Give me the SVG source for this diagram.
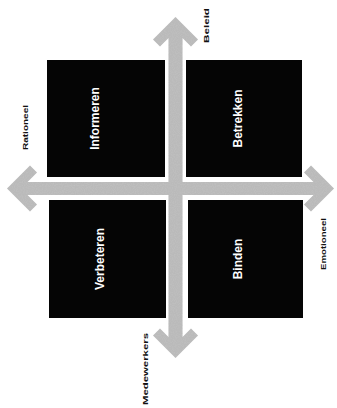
<svg xmlns="http://www.w3.org/2000/svg" width="337" height="408" viewBox="0 0 337 408">
<defs>
<style>
.box{fill:#050505}
.lbl{fill:#ffffff;font-family:"Liberation Sans",Arial,sans-serif;font-weight:bold;font-size:12px;text-anchor:middle;dominant-baseline:central}
.ax{fill:#111111;font-family:"Liberation Sans",Arial,sans-serif;font-weight:bold;font-size:8px;text-anchor:middle;dominant-baseline:central}
.arrow{fill:#bababa}
</style>
<filter id="grain" x="0" y="0" width="100%" height="100%">
<feTurbulence type="fractalNoise" baseFrequency="0.9" numOctaves="1" seed="3" result="n"/>
<feColorMatrix in="n" type="matrix" values="0 0 0 0 0.55  0 0 0 0 0.55  0 0 0 0 0.55  0 0 0 1.4 -0.55" result="d"/>
<feComposite in="d" in2="SourceGraphic" operator="in" result="dm"/>
<feMerge><feMergeNode in="SourceGraphic"/><feMergeNode in="dm"/></feMerge>
</filter>
</defs>
<rect width="337" height="408" fill="#ffffff"/>
<g id="connectors" filter="url(#grain)">
<path class="arrow" d="M7,188.5 L30,165.5 L37,172.5 L27.5,182 L313.5,182 L304,172.5 L311,165.5 L334,188.5 L311,211.5 L304,204.5 L313.5,195 L27.5,195 L37,204.5 L30,211.5 Z"/>
<path class="arrow" d="M175.5,17 L198,39.5 L191,46.5 L182.5,38 L182.5,337 L191,328.5 L198,335.5 L175.5,358 L153,335.5 L160,328.5 L168.5,337 L168.5,38 L160,46.5 L153,39.5 Z"/>
</g>
<g id="informeren">
<rect class="box" x="47" y="60" width="118" height="117"/>
<text class="lbl" transform="translate(95,118.5) rotate(-90)">Informeren</text>
</g>
<g id="betrekken">
<rect class="box" x="186" y="60" width="116" height="117"/>
<text class="lbl" transform="translate(238,118.5) rotate(-90)">Betrekken</text>
</g>
<g id="verbeteren">
<rect class="box" x="49" y="200" width="117" height="118"/>
<text class="lbl" transform="translate(100,259) rotate(-90)">Verbeteren</text>
</g>
<g id="binden">
<rect class="box" x="188" y="200" width="115" height="118"/>
<text class="lbl" transform="translate(238,259) rotate(-90)">Binden</text>
</g>
<g id="axis-labels">
<text class="ax" transform="translate(206,25.5) rotate(-90)" textLength="35" lengthAdjust="spacingAndGlyphs">Beleid</text>
<text class="ax" transform="translate(25,127.5) rotate(-90)" textLength="45" lengthAdjust="spacingAndGlyphs">Rationeel</text>
<text class="ax" transform="translate(323,244) rotate(-90)" textLength="52" lengthAdjust="spacingAndGlyphs">Emotioneel</text>
<text class="ax" transform="translate(145,369) rotate(-90)" textLength="72" lengthAdjust="spacingAndGlyphs">Medewerkers</text>
</g>
</svg>
